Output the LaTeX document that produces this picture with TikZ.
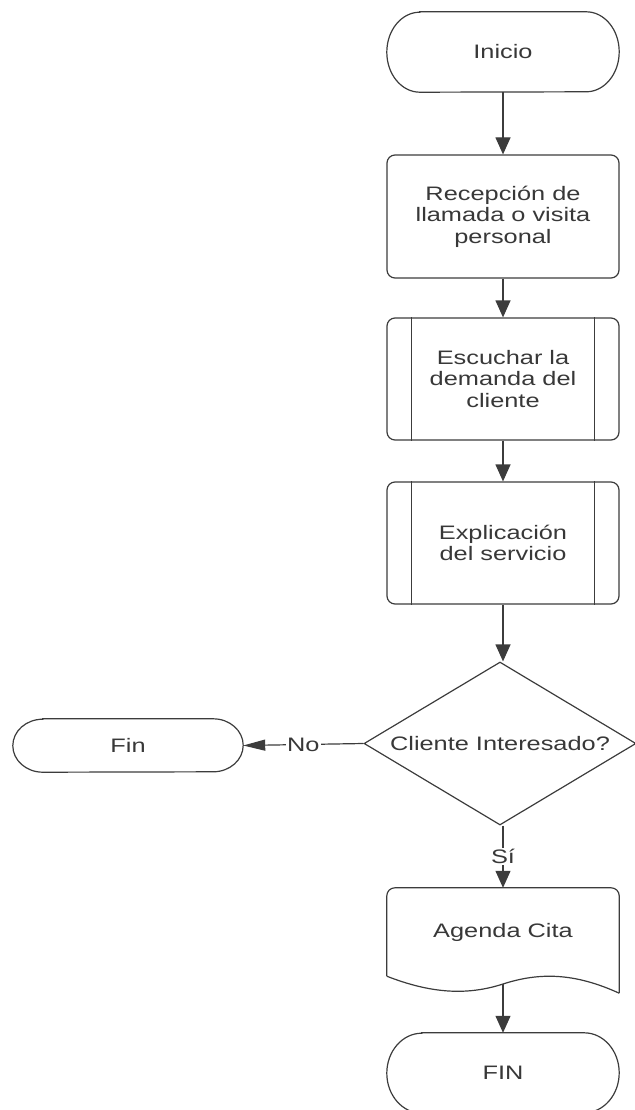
\documentclass[tikz,border=0pt]{standalone}
\usepackage{fontspec}
\setmainfont{Liberation Sans}[FakeStretch=1.3]
\usetikzlibrary{arrows.meta, shapes.geometric}
\definecolor{linegray}{HTML}{3C3C3C}
\definecolor{textgray}{HTML}{383838}
\tikzset{
  base/.style={align=center, text=textgray, font=\fontsize{19.5}{21.5}\selectfont, inner sep=0pt},
  proc/.style={base, draw=linegray, line width=1.2pt, rounded corners=8pt, minimum width=232pt, minimum height=122pt},
  term/.style={base, minimum width=232pt, minimum height=80pt},
  choice/.style={base, diamond, draw=linegray, line width=1.2pt, aspect=1.67, minimum width=272pt, minimum height=163pt},
  edge/.style={draw=linegray, line width=1.2pt},
  arr/.style={edge, -{Triangle[length=17pt,width=15pt]}},
  harr/.style={edge, -{Triangle[length=22pt,width=11pt]}},
  tag/.style={base, fill=white, inner sep=1pt}
}

\begin{document}
\begin{tikzpicture}[x=1pt, y=-1pt]
    \useasboundingbox (0,0) rectangle (634,1110);
    % nodes
    \node[term] (inicio) at (503,52) {Inicio};
    \node[proc, minimum height=123pt] (recepcion) at (503,216.5) {Recepción de\\llamada o visita\\personal};
    \node[proc] (escuchar) at (503,379) {Escuchar la\\demanda del\\cliente};
    \node[proc] (explicacion) at (503,543) {Explicación\\del servicio};
    \node[choice] (decision) at (500,743.5) {Cliente Interesado?};
    \node[term, minimum width=230pt, minimum height=53pt] (fin) at (128,745.5) {Fin};
    \node[base, minimum width=232pt, minimum height=88pt] (agenda) at (503,932) {Agenda Cita};
    \coordinate (agendawave) at (503,984);
    \node[term] (fin2) at (503,1073) {FIN};
    % terminal outlines
    \foreach \n/\rx/\ry in {inicio/33pt/40pt, fin/30pt/26.5pt, fin2/35pt/40pt} {
        \draw[edge] ([xshift=\rx]\n.north west) -- ([xshift=-\rx]\n.north east)
            arc[start angle=90, end angle=-90, x radius=\rx, y radius=\ry]
            -- ([xshift=\rx]\n.south west)
            arc[start angle=270, end angle=90, x radius=\rx, y radius=\ry] -- cycle;
    }
    % predefined process bars
    \foreach \n in {escuchar, explicacion} {
        \draw[edge] ([xshift=25pt]\n.north west) -- ([xshift=25pt]\n.south west);
        \draw[edge] ([xshift=-25pt]\n.north east) -- ([xshift=-25pt]\n.south east);
    }
    % document shape
    \draw[edge, rounded corners=8pt] (agenda.south west) -- (agenda.north west) -- (agenda.north east) -- ([yshift=-17pt]agenda.south east);
    \draw[edge] ([yshift=-17pt]agenda.south east) .. controls (575,973) and (540,972) .. (agendawave)
        .. controls (466,996) and (430,993) .. (agenda.south west);
    % connectors
    \draw[arr] (inicio.south) -- (recepcion.north);
    \draw[arr] (recepcion.south) -- (escuchar.north);
    \draw[arr] (escuchar.south) -- (explicacion.north);
    \draw[arr] (explicacion.south) -- (explicacion.south |- decision.north);
    \draw[harr] (decision.west) -- node[tag] {No} (fin.east);
    \draw[arr] (decision.south -| agenda.north) -- node[tag] {Sí} (agenda.north);
    \draw[arr] (agendawave) -- (fin2.north);
\end{tikzpicture}
\end{document}
